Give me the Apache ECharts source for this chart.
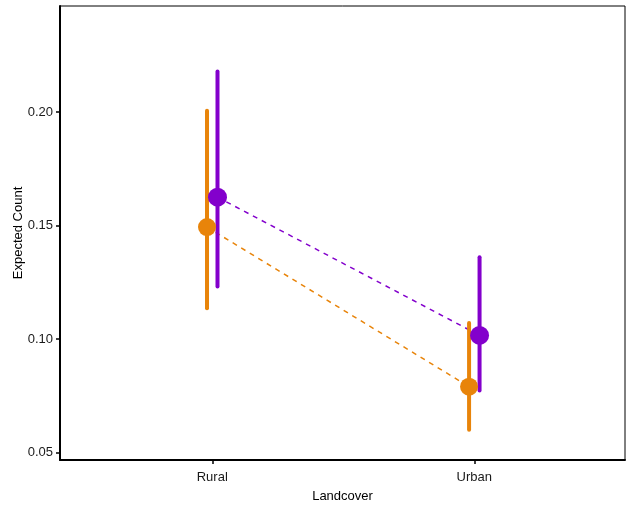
<!DOCTYPE html>
<html>
<head>
<meta charset="utf-8">
<script src="https://cdn.jsdelivr.net/npm/echarts@6/dist/echarts.min.js"></script>
<style>
  html, body { margin: 0; padding: 0; background: #fff; }
  #main { width: 629px; height: 507px; }
</style>
</head>
<body>
<div id="main"></div>
<script>
var categories = ['Rural', 'Urban'];
var yTicks = [0.05, 0.10, 0.15, 0.20];

// group A (orange) and group B (purple): mean and interval per landcover
var orangeMean = [0.1494, 0.0791];
var orangeLow = [0.1136, 0.0601];
var orangeHigh = [0.2006, 0.1072];
var purpleMean = [0.1626, 0.1017];
var purpleLow = [0.1232, 0.0774];
var purpleHigh = [0.2180, 0.1361];

var dodge = 0.02;
var orangeCol = '#E8840A';
var purpleCol = '#8300CC';

function pts(vals, off) {
  return vals.map(function (v, i) { return [i + 1 + off, v]; });
}
function bars(lo, hi, off) {
  return lo.map(function (v, i) { return [i + 1 + off, v, hi[i]]; });
}

function errSeries(data, col) {
  return {
    type: 'custom',
    data: data,
    renderItem: function (params, api) {
      var a = api.coord([api.value(0), api.value(1)]);
      var b = api.coord([api.value(0), api.value(2)]);
      return {
        type: 'line',
        shape: { x1: a[0], y1: a[1], x2: b[0], y2: b[1] },
        style: { stroke: col, lineWidth: 4, lineCap: 'round' }
      };
    },
    z: 2
  };
}

var myChart = echarts.init(document.getElementById('main'));

var option = {
  animation: false,
  backgroundColor: '#fff',
  grid: {
    left: 60, right: 4, top: 6, bottom: 47,
    outerBoundsMode: 'none', containLabel: false,
    show: true, borderColor: '#000', borderWidth: 1
  },
  // y axis title, placed like ggplot's
  graphic: [{
    type: 'text',
    x: 18,
    y: 233,
    rotation: Math.PI / 2,
    style: {
      text: 'Expected Count',
      fontFamily: 'Liberation Sans',
      fontSize: 13,
      fill: '#000',
      align: 'center',
      verticalAlign: 'middle'
    }
  }],
  xAxis: {
    type: 'value',
    min: 0.419,
    max: 2.575,
    name: 'Landcover',
    nameLocation: 'middle',
    nameGap: 30,
    nameTextStyle: { fontFamily: 'Liberation Sans', fontSize: 13, color: '#000' },
    axisLine: { lineStyle: { color: '#000', width: 2 } },
    axisTick: { length: 4, lineStyle: { color: '#000', width: 1.5 }, customValues: [1, 2] },
    axisLabel: {
      customValues: [1, 2],
      formatter: function (v) { return categories[Math.round(v) - 1]; },
      fontFamily: 'Liberation Sans', fontSize: 13, color: '#1a1a1a', margin: 11
    },
    splitLine: { show: false }
  },
  yAxis: {
    type: 'value',
    min: 0.0468,
    max: 0.2468,
    axisLine: { show: true, lineStyle: { color: '#000', width: 2 } },
    axisTick: { show: true, length: 4, lineStyle: { color: '#000', width: 1.5 }, customValues: yTicks },
    axisLabel: {
      customValues: yTicks,
      formatter: function (v) { return v.toFixed(2); },
      fontFamily: 'Liberation Sans', fontSize: 13, color: '#1a1a1a', margin: 7
    },
    splitLine: { show: false }
  },
  series: [
    {
      type: 'line',
      data: pts(orangeMean, -dodge),
      symbol: 'none',
      lineStyle: { color: orangeCol, width: 1.5, type: [5, 5] },
      z: 1
    },
    {
      type: 'line',
      data: pts(purpleMean, dodge),
      symbol: 'none',
      lineStyle: { color: purpleCol, width: 1.5, type: [5, 5] },
      z: 1
    },
    errSeries(bars(orangeLow, orangeHigh, -dodge), orangeCol),
    errSeries(bars(purpleLow, purpleHigh, dodge), purpleCol),
    {
      type: 'scatter',
      data: pts(orangeMean, -dodge),
      symbolSize: 18,
      itemStyle: { color: orangeCol, opacity: 1 },
      z: 3
    },
    {
      type: 'scatter',
      data: pts(purpleMean, dodge),
      symbolSize: 19,
      itemStyle: { color: purpleCol, opacity: 1 },
      z: 3
    }
  ]
};

myChart.setOption(option);
</script>
</body>
</html>
